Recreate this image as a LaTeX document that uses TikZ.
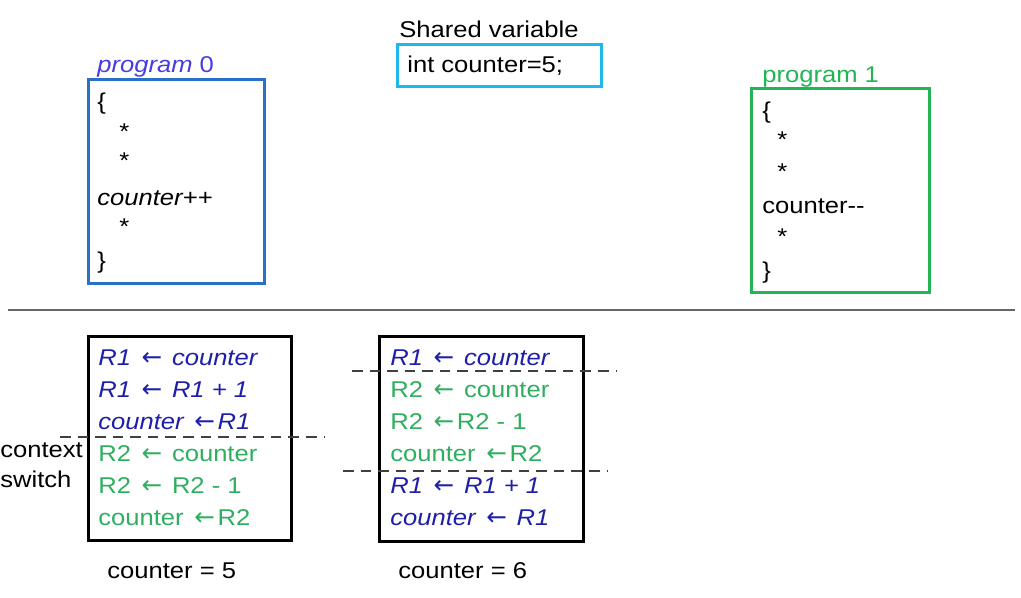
\documentclass[tikz,border=0pt]{standalone}
\usepackage{fontspec}
\setmainfont{Liberation Sans}[FakeStretch=1.12]
\newfontfamily\arrowfont{DejaVu Sans}
\newcommand{\getsarrow}{{\upshape\arrowfont\fontsize{14}{15}\selectfont\kern2pt←\kern1.5pt}}
\definecolor{progblue}{RGB}{40,112,200}
\definecolor{labelblue}{RGB}{70,60,225}
\definecolor{regblue}{RGB}{30,30,170}
\definecolor{progcyan}{RGB}{30,185,235}
\definecolor{progrgreen}{RGB}{35,180,85}
\definecolor{codegreen}{RGB}{45,175,95}
\usetikzlibrary{positioning}
\tikzset{
	progbox/.style={
		rectangle,
		line width=1.6pt,
		anchor=north west,
		inner sep=0pt,
	},
	trace/.style={
		progbox,
		draw=black,
		minimum width=4.06cm,
		minimum height=4.08cm,
	},
	code/.style={
		anchor=base west,
		inner sep=0pt,
		font=\fontsize{13}{15}\selectfont,
	},
	regA/.style={
		code,
		text=regblue,
		font=\fontsize{13}{15}\selectfont\itshape,
	},
	regB/.style={
		code,
		text=codegreen,
	},
	switchline/.style={
		thick,
		black!75,
		dash pattern=on 6pt off 4pt,
	},
	sepline/.style={
		thick,
		black!60,
	},
}
\begin{document}
\begin{tikzpicture}[x=0.02cm,y=-0.02cm]
	\useasboundingbox (0,0) rectangle (1021,598);
	% shared variable
	\node[code] (sharedlbl) at (399,38) {Shared variable};
	\node[progbox,draw=progcyan,minimum width=4.08cm,minimum height=0.84cm] (shared) at (396,43) {};
	\node[code] (sharedvar) at (407,73) {int counter=5;};
	% program 0
	\node[code,text=labelblue] (p0lbl) at (97,73) {\textit{program} 0};
	\node[progbox,draw=progblue,minimum width=3.52cm,minimum height=4.08cm] (p0) at (87,78) {};
	\node[code] (p0open) at (97,110) {\{};
	\node[code] (p0s1) at (119,139) {*};
	\node[code] (p0s2) at (119,169) {*};
	\node[code,font=\fontsize{13}{15}\selectfont\itshape] (p0inc) at (97,205) {counter++};
	\node[code] (p0s3) at (119,234) {*};
	\node[code] (p0close) at (97,268) {\}};
	% program 1
	\node[code,text=progrgreen] (p1lbl) at (762,83) {program 1};
	\node[progbox,draw=progrgreen,minimum width=3.56cm,minimum height=4.08cm] (p1) at (750,87) {};
	\node[code] (p1open) at (762,119) {\{};
	\node[code] (p1s1) at (777,148) {*};
	\node[code] (p1s2) at (777,179) {*};
	\node[code] (p1dec) at (762,213) {counter{-}{-}};
	\node[code] (p1s3) at (777,244) {*};
	\node[code] (p1close) at (762,278) {\}};
	% separator
	\coordinate (sepL) at (8,310);
	\coordinate (sepR) at (1015,310);
	\draw[sepline] (sepL) -- (sepR);
	% first interleaving
	\node[trace] (trA) at (87,335) {};
	\node[regA] (a1) at (98,365) {R1 \getsarrow{} counter};
	\node[regA] (a2) at (98,397) {R1 \getsarrow{} R1 + 1};
	\node[regA] (a3) at (98,429) {counter \getsarrow R1};
	\node[regB] (a4) at (98,461) {R2 \getsarrow{} counter};
	\node[regB] (a5) at (98,493) {R2 \getsarrow{} R2 - 1};
	\node[regB] (a6) at (98,525) {counter \getsarrow R2};
	\coordinate (swA1) at (60,437);
	\coordinate (swA2) at (325,437);
	\draw[switchline] (swA1) -- (swA2);
	\node[code] (ctx1) at (0,457) {context};
	\node[code] (ctx2) at (0,487) {switch};
	\node[code] (resA) at (107,578) {counter = 5};
	% second interleaving
	\node[trace,minimum width=4.08cm,minimum height=4.1cm] (trB) at (378,335) {};
	\node[regA] (b1) at (390,365) {R1 \getsarrow{} counter};
	\node[regB] (b2) at (390,397) {R2 \getsarrow{} counter};
	\node[regB] (b3) at (390,429) {R2 \getsarrow R2 - 1};
	\node[regB] (b4) at (390,461) {counter \getsarrow R2};
	\node[regA] (b5) at (390,493) {R1 \getsarrow{} R1 + 1};
	\node[regA] (b6) at (390,525) {counter \getsarrow{} R1};
	\coordinate (swB1) at (352,371);
	\coordinate (swB2) at (617,371);
	\coordinate (swB3) at (343,471);
	\coordinate (swB4) at (608,471);
	\draw[switchline] (swB1) -- (swB2);
	\draw[switchline] (swB3) -- (swB4);
	\node[code] (resB) at (398,578) {counter = 6};
\end{tikzpicture}
\end{document}
